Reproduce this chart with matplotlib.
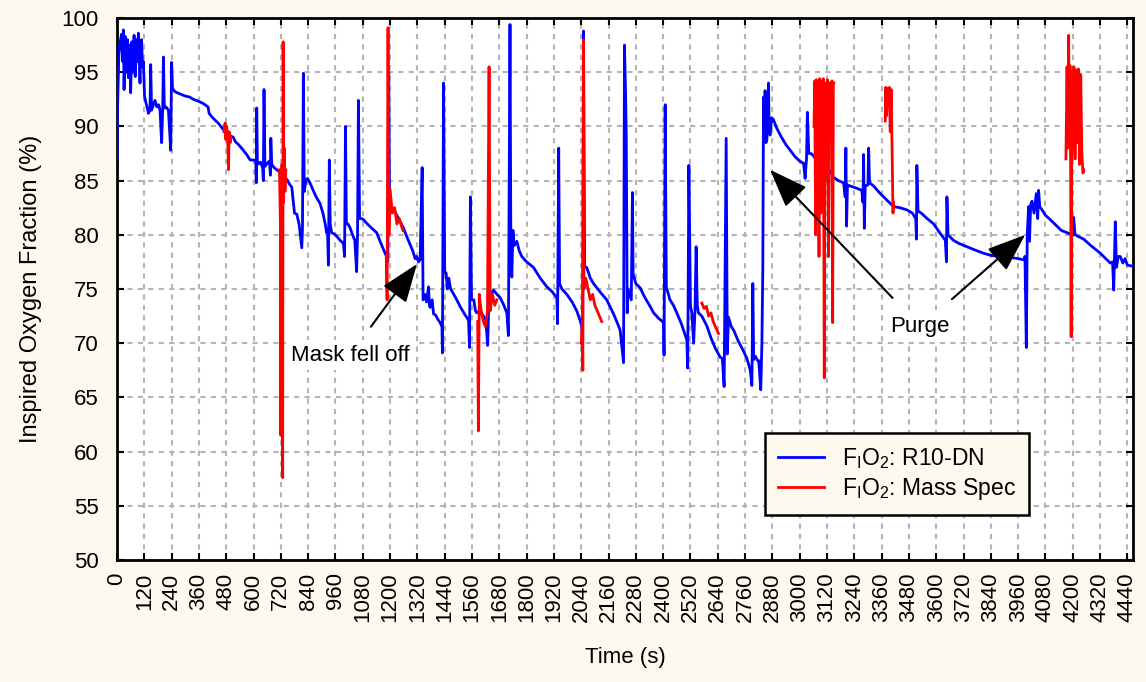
"""
Inspired oxygen fraction over time: R10-DN sensor vs. mass spectrometer
"""
import numpy as np
import matplotlib.pyplot as plt

plt.rcParams['font.family'] = ['Liberation Sans', 'DejaVu Sans']
plt.rcParams['mathtext.fontset'] = 'custom'
plt.rcParams['mathtext.rm'] = 'Liberation Sans'

# R10-DN trace (time in s, FiO2 in %)
blue_t = [0, 3, 8, 13, 20, 25, 28, 31, 36, 42, 46, 50, 55, 60, 65, 70, 75, 80, 86, 90,
          94, 101, 105, 108, 112, 116, 121, 127, 133, 138, 145, 148, 152, 160, 167, 175,
          183, 189, 196, 201, 204, 208, 215, 226, 236, 240, 244, 255, 265, 277, 300, 320,
          335, 360, 380, 400, 405, 416, 430, 445, 460, 475, 490, 511, 520, 535, 555, 570,
          585, 600, 610, 612, 614, 617, 630, 640, 643, 646, 650, 660, 670, 674, 676, 680,
          690, 702, 715, 725, 738, 750, 760, 768, 775, 780, 790, 800, 812, 815, 819, 823,
          830, 837, 848, 860, 875, 892, 905, 915, 921, 925, 929, 933, 937, 943, 960, 980,
          995, 1000, 1004, 1008, 1015, 1025, 1035, 1045, 1053, 1057, 1061, 1066, 1075, 1083,
          1100, 1120, 1141, 1160, 1178, 1185, 1190, 1194, 1198, 1210, 1230, 1257, 1280, 1300,
          1310, 1317, 1325, 1332, 1341, 1345, 1352, 1360, 1369, 1373, 1376, 1385, 1391, 1400,
          1410, 1420, 1428, 1430, 1435, 1440, 1446, 1452, 1458, 1466, 1480, 1493, 1510, 1530,
          1545, 1549, 1553, 1558, 1568, 1575, 1581, 1595, 1610, 1620, 1629, 1633, 1645, 1654,
          1670, 1684, 1700, 1713, 1720, 1727, 1731, 1735, 1740, 1745, 1757, 1768, 1779, 1800,
          1830, 1860, 1889, 1910, 1933, 1936, 1941, 1945, 1955, 1977, 2000, 2020, 2035, 2043,
          2046, 2050, 2055, 2064, 2080, 2094, 2120, 2152, 2180, 2200, 2211, 2226, 2230, 2235,
          2238, 2242, 2246, 2260, 2265, 2268, 2280, 2299, 2320, 2340, 2358, 2380, 2402, 2404,
          2409, 2414, 2430, 2445, 2460, 2480, 2504, 2508, 2513, 2520, 2526, 2534, 2540, 2545,
          2550, 2555, 2570, 2592, 2610, 2630, 2651, 2660, 2668, 2677, 2682, 2687, 2700, 2710,
          2730, 2750, 2768, 2783, 2790, 2794, 2798, 2805, 2815, 2820, 2829, 2834, 2838, 2841,
          2845, 2848, 2852, 2856, 2860, 2863, 2866, 2870, 2877, 2885, 2900, 2920, 2940, 2958,
          2980, 3000, 3017, 3024, 3030, 3034, 3040, 3050, 3060, 3074, 3090, 3105, 3119, 3135,
          3149, 3170, 3193, 3200, 3203, 3206, 3210, 3222, 3250, 3273, 3278, 3281, 3284, 3288,
          3300, 3303, 3307, 3325, 3350, 3383, 3413, 3440, 3471, 3495, 3510, 3513, 3515, 3520,
          3534, 3560, 3589, 3615, 3640, 3645, 3647, 3652, 3675, 3700, 3735, 3770, 3808, 3840,
          3881, 3930, 3960, 3984, 3990, 3996, 4000, 4006, 4010, 4015, 4021, 4030, 4040, 4046,
          4050, 4055, 4065, 4080, 4101, 4130, 4150, 4174, 4200, 4204, 4210, 4248, 4280, 4321,
          4345, 4365, 4375, 4380, 4387, 4392, 4400, 4409, 4420, 4430, 4440, 4465]
blue_v = [86.9, 92.2, 96.5, 97.7, 98.5, 96.0, 98.9, 93.4, 98.3, 95.0, 98.0, 94.5, 97.5, 93.1,
          97.8, 95.0, 98.4, 94.6, 98.0, 96.0, 98.6, 94.0, 97.5, 98.0, 95.5, 96.0, 92.8, 92.2,
          91.7, 91.2, 91.5, 95.7, 91.5, 92.0, 92.4, 91.8, 92.0, 91.5, 88.5, 91.7, 96.4, 91.7,
          91.8, 91.5, 87.8, 95.9, 93.5, 93.2, 93.1, 93.0, 92.8, 92.7, 92.5, 92.3, 92.1, 91.8,
          91.2, 90.9, 90.6, 90.3, 89.9, 89.5, 89.2, 89.0, 88.6, 88.3, 87.8, 87.4, 86.9, 86.9,
          86.8, 84.8, 91.7, 86.5, 86.7, 86.2, 85.0, 93.4, 86.3, 86.6, 86.8, 85.5, 88.9, 86.5,
          86.2, 86.0, 85.8, 85.4, 85.3, 85.0, 84.6, 84.4, 83.0, 82.0, 81.9, 81.0, 78.8, 80.5,
          94.9, 84.0, 85.0, 85.2, 84.8, 84.2, 83.5, 82.9, 82.0, 81.0, 80.2, 80.5, 77.2, 86.9,
          81.0, 80.2, 80.0, 79.5, 79.2, 78.0, 90.0, 81.0, 81.0, 80.6, 80.0, 79.5, 76.6, 80.0,
          92.4, 81.5, 81.5, 81.4, 81.0, 80.6, 80.2, 79.2, 78.3, 78.0, 77.5, 95.0, 82.0, 82.5,
          81.8, 80.7, 79.5, 78.5, 77.8, 78.0, 77.5, 77.7, 86.2, 74.0, 74.5, 73.8, 75.2, 73.5,
          73.3, 74.0, 72.7, 72.6, 72.2, 71.9, 71.5, 69.1, 94.0, 76.5, 76.5, 75.0, 76.0, 75.0,
          74.5, 74.0, 73.3, 72.6, 72.1, 69.6, 83.5, 74.0, 74.0, 73.0, 72.8, 73.0, 72.5, 72.2,
          69.8, 73.0, 74.5, 74.9, 74.5, 74.2, 73.5, 72.8, 70.7, 99.4, 78.0, 76.1, 80.4, 79.0,
          79.4, 78.5, 78.0, 77.5, 77.0, 76.0, 75.2, 74.8, 74.2, 71.8, 88.0, 75.5, 75.0, 74.5,
          73.8, 73.0, 72.1, 71.5, 68.0, 98.8, 77.0, 77.0, 76.0, 75.5, 74.8, 74.0, 72.8, 71.8,
          71.2, 68.2, 97.5, 93.0, 89.0, 72.8, 75.0, 74.0, 83.9, 76.4, 75.5, 75.1, 74.2, 73.5,
          72.8, 72.3, 71.9, 68.9, 92.0, 75.2, 74.0, 73.5, 72.8, 71.8, 70.3, 67.7, 86.4, 73.5,
          72.8, 70.0, 73.0, 78.9, 73.5, 72.8, 72.5, 71.6, 70.5, 69.5, 68.7, 68.6, 66.0, 88.9,
          69.0, 72.4, 71.5, 71.2, 70.2, 69.4, 68.6, 67.5, 66.1, 75.5, 68.5, 68.8, 68.4, 68.4,
          65.7, 70.0, 76.9, 92.7, 89.0, 93.3, 88.5, 88.8, 91.0, 94.0, 89.5, 89.2, 90.8, 90.6,
          89.8, 89.0, 88.3, 87.8, 87.2, 86.8, 86.6, 85.2, 87.0, 91.3, 87.5, 87.5, 87.3, 86.9,
          86.8, 86.5, 86.3, 85.8, 85.3, 85.0, 84.8, 83.5, 88.0, 80.8, 84.6, 84.5, 84.3, 84.1,
          83.0, 87.4, 80.6, 84.5, 84.6, 88.0, 84.8, 84.5, 83.9, 83.2, 82.6, 82.5, 82.3, 82.0,
          81.5, 79.6, 86.4, 82.2, 82.0, 81.5, 81.0, 80.2, 79.5, 77.5, 83.5, 80.0, 79.5, 79.2,
          78.9, 78.6, 78.3, 78.1, 78.0, 77.9, 77.8, 77.7, 78.0, 69.6, 80.0, 82.6, 79.4, 82.8,
          83.1, 82.0, 83.8, 81.5, 84.1, 82.6, 82.3, 81.8, 81.4, 80.8, 80.4, 80.2, 80.0, 81.6,
          80.0, 79.6, 79.0, 78.3, 77.8, 77.4, 77.5, 74.9, 81.2, 77.0, 78.0, 78.0, 77.4, 77.8,
          77.2, 77.1]

# Mass spectrometer segments (time in s, FiO2 in %)
red1_t = [470, 475, 478, 482, 486, 490, 493, 497, 500]
red1_v = [89.5, 90.3, 88.8, 90.0, 89.0, 86.0, 89.5, 88.5, 89.0]
red2_t = [714, 718, 720, 722, 725, 728, 730, 732, 735, 738, 742]
red2_v = [86.0, 81.0, 61.5, 84.0, 86.5, 57.6, 97.8, 83.0, 88.0, 84.0, 86.0]
red3_t = [1183, 1187, 1191, 1195, 1200, 1210, 1220, 1230, 1240, 1250, 1257]
red3_v = [78.0, 74.0, 99.1, 80.0, 84.2, 82.0, 82.5, 81.0, 81.5, 80.8, 80.4]
red4_t = [1585, 1588, 1592, 1600, 1610, 1620, 1628, 1635, 1640, 1650, 1660, 1669]
red4_v = [72.0, 61.9, 74.5, 73.0, 72.0, 71.5, 73.0, 95.5, 73.0, 74.5, 73.5, 74.0]
red5_t = [2040, 2045, 2047, 2050, 2052, 2060, 2070, 2080, 2090, 2100, 2110, 2120, 2130]
red5_v = [70.0, 72.0, 67.5, 98.0, 75.0, 76.0, 75.0, 74.0, 74.5, 73.5, 73.0, 72.5, 72.0]
red6_t = [2570, 2580, 2590, 2600, 2610, 2620, 2630, 2643]
red6_v = [73.7, 73.2, 73.4, 72.5, 72.8, 72.0, 71.5, 70.9]
red7_t = [3063, 3066, 3070, 3073, 3077, 3080, 3085, 3088, 3093, 3096, 3100, 3104, 3108,
          3112, 3117, 3122, 3127, 3132, 3138, 3142, 3145, 3148, 3150]
red7_v = [90.0, 94.2, 80.0, 94.3, 81.5, 94.0, 78.0, 94.4, 82.0, 94.2, 88.0, 94.4, 66.8,
          94.0, 85.0, 94.3, 78.0, 94.0, 90.0, 94.2, 71.9, 93.8, 94.0]
red8_t = [3376, 3378, 3382, 3386, 3390, 3394, 3398, 3402, 3406, 3410, 3413]
red8_v = [90.5, 93.6, 91.0, 93.5, 92.0, 93.6, 89.5, 93.4, 88.0, 82.0, 83.0]
red9_t = [4170, 4175, 4178, 4182, 4185, 4188, 4191, 4193, 4196, 4200, 4205, 4210, 4215,
          4220, 4225, 4230, 4235, 4240, 4245, 4248]
red9_v = [87.0, 95.5, 88.0, 98.4, 89.0, 95.6, 85.0, 70.6, 95.0, 88.0, 95.5, 87.0, 95.2,
          88.5, 95.3, 86.5, 94.8, 87.5, 85.7, 86.0]

red_segments = [(red1_t, red1_v), (red2_t, red2_v), (red3_t, red3_v), (red4_t, red4_v),
                (red5_t, red5_v), (red6_t, red6_v), (red7_t, red7_v), (red8_t, red8_v),
                (red9_t, red9_v)]
red_t, red_v = [], []
for t, v in red_segments:
    red_t += list(t) + [np.nan]
    red_v += list(v) + [np.nan]

x_ticks = np.arange(0, 4441, 120)
y_ticks = np.arange(50, 101, 5)

bg = '#fdf9ee'
fig = plt.figure(figsize=(11.46, 6.82), dpi=100, facecolor=bg)
ax = fig.add_axes([0.1021, 0.1789, 0.8866, 0.7947])
ax.set_facecolor('white')

ax.plot(blue_t, blue_v, color='#0000ff', lw=2, label=r'F$_\mathregular{I}$O$_\mathregular{2}$: R10-DN', zorder=3)
ax.plot(red_t, red_v, color='#ff0000', lw=2, label=r'F$_\mathregular{I}$O$_\mathregular{2}$: Mass Spec', zorder=4)

ax.set_xlim(0, 4465)
ax.set_ylim(50, 100)
ax.set_xticks(x_ticks)
ax.set_xticklabels([str(t) for t in x_ticks], rotation=90, fontsize=16)
ax.set_yticks(y_ticks)
ax.set_yticklabels([str(y) for y in y_ticks], fontsize=16)
ax.tick_params(direction='in', length=5, width=1.5, top=True, right=True)
ax.tick_params(axis='x', pad=9)
ax.tick_params(axis='y', pad=13)
ax.grid(True, color='#b4b4b4', ls=(0, (2.5, 2.5)), lw=1.5)
for s in ax.spines.values():
    s.set_linewidth(2)

ax.set_xlabel('Time (s)', fontsize=16, labelpad=18)
ax.set_ylabel('Inspired Oxygen Fraction (%)', fontsize=17, labelpad=14)

box = dict(boxstyle='square,pad=0.2', fc='white', ec='none')
arrow = dict(arrowstyle='-|>,head_length=1.2,head_width=0.45', color='black', lw=1.5, mutation_scale=20)
ax.annotate('Mask fell off', xy=(1318, 77.3), xytext=(1024, 68.9), fontsize=16,
            ha='center', va='center', bbox=box, arrowprops=dict(arrow, shrinkA=12, shrinkB=0), zorder=6)
ax.annotate('Purge', xy=(2870, 86.0), xytext=(3530, 71.5), fontsize=16,
            ha='center', va='center', bbox=box, arrowprops=dict(arrow, shrinkA=14, shrinkB=0), zorder=6)
ax.annotate('Purge', xy=(3991, 80.0), xytext=(3530, 71.5), fontsize=16,
            ha='center', va='center', bbox=box, arrowprops=dict(arrow, shrinkA=14, shrinkB=0), zorder=6)

leg = ax.legend(loc='lower left', bbox_to_anchor=(0.638, 0.083), fontsize=16.5, fancybox=False,
                framealpha=1, facecolor=bg, edgecolor='black', handlelength=2.0,
                borderpad=0.55, labelspacing=0.25, borderaxespad=0)
leg.get_frame().set_linewidth(1.8)
leg.set_zorder(7)

plt.savefig('out.png', dpi=100, facecolor=bg)
